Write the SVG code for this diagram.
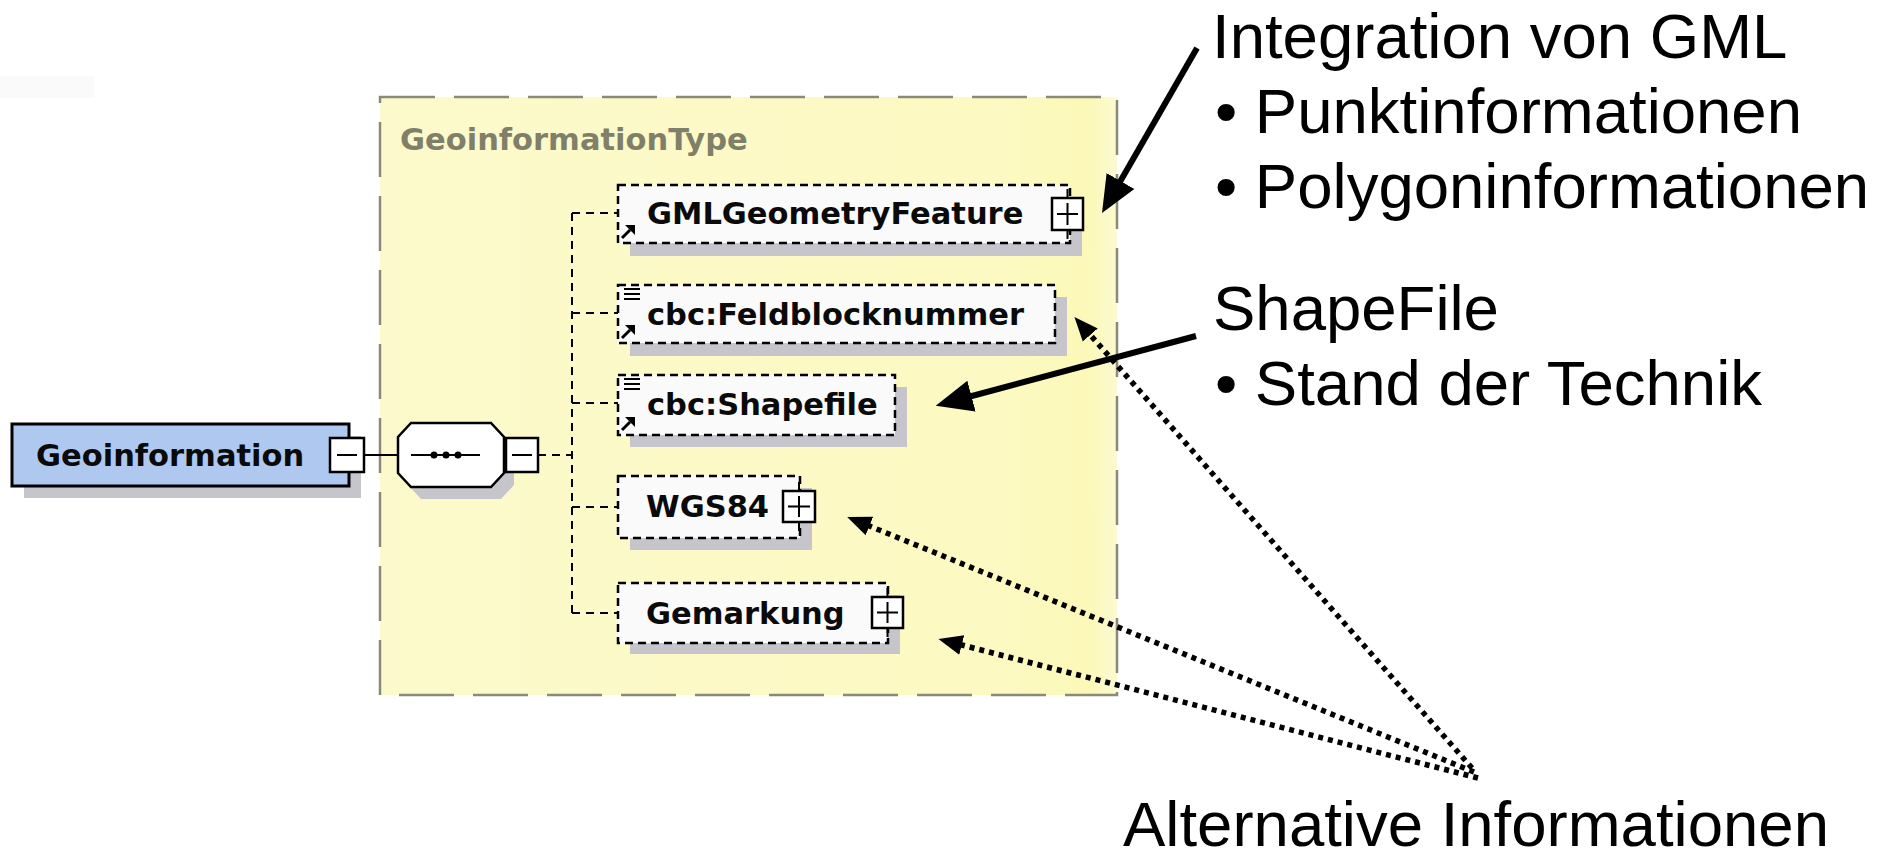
<svg xmlns="http://www.w3.org/2000/svg" xmlns:xlink="http://www.w3.org/1999/xlink" width="1890" height="861" viewBox="0 0 1890 861">
<defs>
<style>
.lbl{font-family:"DejaVu Sans",Verdana,sans-serif;font-weight:bold;font-size:30.5px;fill:#0a0a0a}
.ttl{font-family:"DejaVu Sans",Verdana,sans-serif;font-weight:bold;font-size:30.5px;fill:#80806a}
.ann{font-family:"Liberation Sans",Arial,sans-serif;font-size:63.5px;fill:#000}
.box{fill:#fafafa;stroke:#000;stroke-width:2.5;stroke-dasharray:8 5}
.shadow{fill:#c6c5cc}
.conn{fill:none;stroke:#000;stroke-width:2;stroke-dasharray:8 6}
.btn{fill:#fff;stroke:#000;stroke-width:2.5}
.sign{stroke:#000;stroke-width:2;fill:none}
.solid{stroke:#000;stroke-width:6;fill:none}
.dotted{stroke:#000;stroke-width:5.5;fill:none;stroke-dasharray:5 5}
</style>
<linearGradient id="yel" x1="0" y1="0" x2="1" y2="0">
<stop offset="0" stop-color="#fcfacc"/>
<stop offset="0.85" stop-color="#fcf9c2"/>
<stop offset="0.96" stop-color="#fbf8b8"/>
<stop offset="1" stop-color="#fcfad0"/>
</linearGradient>
<marker id="ahSolid" markerUnits="userSpaceOnUse" markerWidth="44" markerHeight="44" viewBox="0 0 44 44" refX="15" refY="22" orient="auto">
<path d="M0,6 L37,22 L0,38 z" fill="#000"/>
</marker>
<marker id="ahDot" markerUnits="userSpaceOnUse" markerWidth="30" markerHeight="30" viewBox="0 0 30 30" refX="8" refY="15" orient="auto">
<path d="M0,5 L24,15 L0,25 z" fill="#000"/>
</marker>
<g id="refIcon">
<path d="M1,14 L9,6" stroke="#000" stroke-width="3"/>
<path d="M4,1 L14,1 L14,11 z" fill="#000"/>
</g>
<g id="listIcon">
<path d="M0,0 H16 M0,5 H16 M0,10 H16" stroke="#000" stroke-width="2.2"/>
</g>
</defs>

<rect width="1890" height="861" fill="#fff"/>
<rect x="0" y="76" width="94" height="22" fill="#fafafa"/>

<g id="GeoinformationType">
<rect x="380" y="97" width="737" height="598" fill="url(#yel)" stroke="#8a8a78" stroke-width="2.5" stroke-dasharray="55 19"/>
<text class="ttl" x="400" y="150">GeoinformationType</text>
</g>

<g id="connectors">
<line x1="364" y1="455" x2="398" y2="455" stroke="#000" stroke-width="2"/>
<path class="conn" d="M538,455 H572"/>
<path class="conn" d="M572,213 V613"/>
<path class="conn" d="M572,213 H618 M572,313 H618 M572,403 H618 M572,507 H618 M572,613 H618"/>
<line class="solid" x1="1197" y1="48" x2="1113" y2="194" marker-end="url(#ahSolid)"/>
<line class="solid" x1="1196" y1="336" x2="957" y2="400" marker-end="url(#ahSolid)"/>
<line class="dotted" x1="1472" y1="768" x2="1085" y2="329" marker-end="url(#ahDot)"/>
<line class="dotted" x1="1474" y1="772" x2="862" y2="523" marker-end="url(#ahDot)"/>
<line class="dotted" x1="1478" y1="778" x2="954" y2="643" marker-end="url(#ahDot)"/>
</g>

<g id="Geoinformation">
<rect class="shadow" x="24" y="436" width="337" height="62" fill="#c2bfc2"/>
<rect x="12" y="424" width="337" height="62" fill="#aec8ef" stroke="#000" stroke-width="3"/>
<text class="lbl" x="36" y="466">Geoinformation</text>
<rect class="btn" x="330" y="438" width="34" height="34"/>
<path class="sign" d="M337,455 H357"/>
</g>

<g id="sequence">
<polygon class="shadow" points="421,435 501,435 514,449 514,485 501,499 421,499 408,485 408,449"/>
<polygon points="411,423 491,423 504,437 504,473 491,487 411,487 398,473 398,437" fill="#fff" stroke="#000" stroke-width="2.5"/>
<path d="M411,455 H480" stroke="#000" stroke-width="2"/>
<circle cx="434" cy="455" r="3.5" fill="#000"/>
<circle cx="446" cy="455" r="3.5" fill="#000"/>
<circle cx="458" cy="455" r="3.5" fill="#000"/>
<rect class="btn" x="506" y="438" width="32" height="34"/>
<path class="sign" d="M512,455 H532"/>
</g>

<g id="GMLGeometryFeature">
<rect class="shadow" x="630" y="197" width="452" height="59"/>
<rect class="box" x="618" y="185" width="452" height="58"/>
<text class="lbl" x="647" y="224">GMLGeometryFeature</text>
<use xlink:href="#refIcon" x="621" y="224"/>
<path class="sign" d="M1067.5,189 V239"/>
<rect class="btn" x="1052" y="198" width="31" height="32"/>
<path class="sign" d="M1057,214 H1078 M1067.5,203 V225"/>
</g>

<g id="Feldblocknummer">
<rect class="shadow" x="630" y="297" width="437" height="59"/>
<rect class="box" x="618" y="285" width="437" height="58"/>
<text class="lbl" x="647" y="325">cbc:Feldblocknummer</text>
<use xlink:href="#listIcon" x="624" y="289"/>
<use xlink:href="#refIcon" x="621" y="324"/>
</g>

<g id="Shapefile">
<rect class="shadow" x="630" y="387" width="277" height="60"/>
<rect class="box" x="618" y="375" width="277" height="60"/>
<text class="lbl" x="647" y="415">cbc:Shapefile</text>
<use xlink:href="#listIcon" x="624" y="379"/>
<use xlink:href="#refIcon" x="621" y="416"/>
</g>

<g id="WGS84">
<rect class="shadow" x="630" y="488" width="182" height="62"/>
<rect class="box" x="618" y="476" width="182" height="62"/>
<text class="lbl" x="646" y="517">WGS84</text>
<path class="sign" d="M799,482 V531"/>
<rect class="btn" x="783" y="491" width="32" height="31"/>
<path class="sign" d="M788,506.5 H810 M799,496 V517"/>
</g>

<g id="Gemarkung">
<rect class="shadow" x="630" y="595" width="270" height="59"/>
<rect class="box" x="618" y="583" width="270" height="60"/>
<text class="lbl" x="646" y="624">Gemarkung</text>
<path class="sign" d="M887.5,588 V637"/>
<rect class="btn" x="872" y="597" width="31" height="31"/>
<path class="sign" d="M877,612.5 H898 M887.5,602 V623"/>
</g>

<g id="annotations">
<text class="ann" x="1212" y="58">Integration von GML</text>
<text class="ann" x="1215" y="133">• Punktinformationen</text>
<text class="ann" x="1215" y="208">• Polygoninformationen</text>
<text class="ann" x="1213" y="330">ShapeFile</text>
<text class="ann" x="1215" y="405">• Stand der Technik</text>
<text class="ann" x="1123" y="846">Alternative Informationen</text>
</g>
</svg>
